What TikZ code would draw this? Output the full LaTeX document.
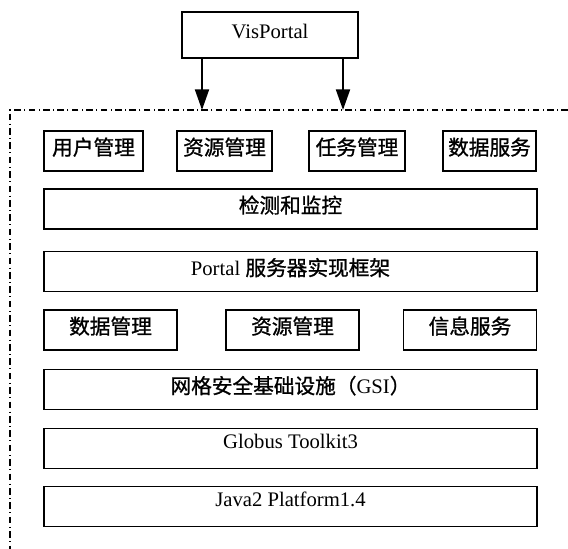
\documentclass[tikz,border=0pt]{standalone}
\usepackage{fontspec}
\setmainfont{Liberation Serif}
\newfontfamily\cjk[FakeBold=1]{Noto Sans CJK SC}
\usepackage{tikz}
\usetikzlibrary{arrows.meta,positioning}
\tikzset{
  layer/.style = {draw=black, line width=1.4pt, fill=white, align=center,
                  inner sep=0pt, minimum height=30pt, text height=11pt, text depth=5pt,
                  font=\fontsize{15.5}{18}\selectfont},
  wide/.style  = {layer, minimum width=369.75pt},
  ar/.style    = {-{Triangle[length=15.5pt,width=10.5pt]}, line width=1.5pt},
  frame/.style = {line width=0.8pt, dash pattern=on 5pt off 2.5pt on 0.8pt off 2.5pt},
}

\begin{document}
\begin{tikzpicture}[x=0.75pt,y=-0.75pt]
  \useasboundingbox (0,0) rectangle (568,549);
  % top node
  \node[layer, minimum width=132pt, minimum height=34.5pt] (vis) at (270,35) {VisPortal};
  % portal frame, open to the right and bottom
  \coordinate (fl) at (10,110);
  \coordinate (fr) at (568,110);
  \coordinate (fb) at (10,549);
  \draw[frame] (fr) -- (fl) -- (fb);
  \coordinate (a1) at (202,110);
  \coordinate (a2) at (343,110);
  \draw[ar] (vis.south -| a1) -- (a1);
  \draw[ar] (vis.south -| a2) -- (a2);
  % first row
  \foreach \n/\x/\w/\t in {user/93.5/74.25/用户管理, res/224.5/71.25/资源管理,
                           task/357/72/任务管理, data/489.5/69.75/数据服务} {
     \node[layer, minimum width=\w pt] (\n) at (\x,151) {\cjk \t};
  }
  \node[wide] (mon) at (290.5,209) {\cjk 检测和监控};
  \node[wide] (srv) at (290.5,271.5) {Portal {\cjk 服务器实现框架}};
  % grid services
  \foreach \n/\x/\t in {gdata/110.5/数据管理, gres/292.5/资源管理, ginfo/470/信息服务} {
     \node[layer, minimum width=99.75pt] (\n) at (\x,330) {\cjk \t};
  }
  \node[wide] (gsi) at (290.5,389.5) {{\cjk 网格安全基础设施（}GSI{\cjk ）}};
  \node[wide, text depth=11pt] (gt3) at (290.5,448.5) {Globus Toolkit3};
  \node[wide, text depth=11pt] (jdk) at (290.5,506.5) {Java2 Platform1.4};
\end{tikzpicture}
\end{document}
